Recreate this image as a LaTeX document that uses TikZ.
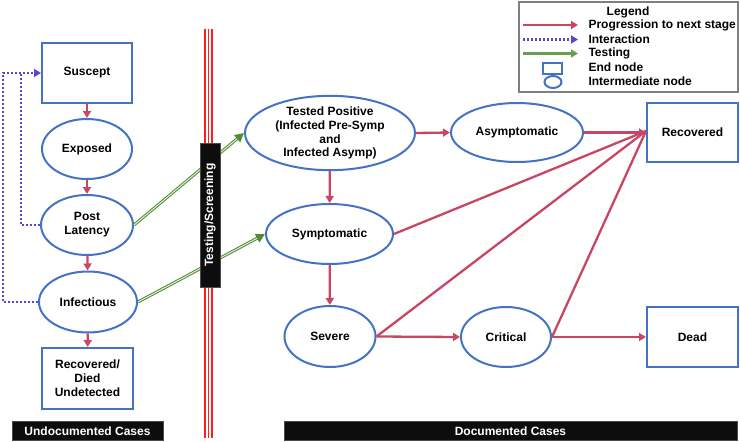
\documentclass[tikz,border=0pt]{standalone}
\usepackage{fontspec}
\setmainfont{Liberation Sans}
\usetikzlibrary{arrows.meta,shapes.geometric}
\definecolor{nodeblue}{RGB}{68,114,196}
\definecolor{progpink}{RGB}{200,70,100}
\definecolor{interblue}{RGB}{88,70,205}
\definecolor{testgreen}{RGB}{78,140,48}
\definecolor{barred}{RGB}{255,30,30}
\definecolor{legendgray}{RGB}{127,127,127}
\tikzset{
  txt/.style={font=\fontsize{12}{13.8}\selectfont\bfseries, text=black, align=center},
  endbox/.style={txt, draw=nodeblue, line width=2pt, rectangle, inner sep=0pt},
  midnode/.style={txt, draw=nodeblue, line width=2pt, ellipse, inner sep=0pt},
  prog/.style={draw=progpink, line width=2.3pt, -{Triangle[length=7pt,width=8pt]}},
  progline/.style={draw=progpink, line width=2.3pt},
  inter/.style={draw=interblue, line width=2.2pt, dash pattern=on 2pt off 2pt, -{Triangle[length=7pt,width=8pt]}},
  interline/.style={draw=interblue, line width=2.2pt, dash pattern=on 2pt off 2pt},
  testouter/.style={draw=testgreen, line width=3pt, -{Triangle[length=9pt,width=9pt]}},
  testinner/.style={draw=white!85!testgreen, line width=1pt, shorten >=9pt},
  blackbar/.style={fill=black!95, draw=black!70, line width=0.5pt, text=white, font=\fontsize{12}{13.8}\selectfont\bfseries, inner sep=0pt},
  redline/.style={draw=barred, line width=1.3pt},
}
\begin{document}
\begin{tikzpicture}[x=1pt,y=-1pt]
\useasboundingbox (0,0) rectangle (740,442);
% red triple lines
\draw[redline] (205,29) -- (205,438);
\draw[redline] (208.5,29) -- (208.5,438);
\draw[redline] (212,29) -- (212,438);

% left column
\node[endbox, minimum width=90pt, minimum height=60pt] (su) at (87,73) {Suscept};
\node[midnode, minimum width=90pt, minimum height=60pt] (ex) at (87,149) {Exposed};
\node[midnode, minimum width=92pt, minimum height=60pt] (pl) at (87,225) {Post\\Latency};
\node[midnode, minimum width=98pt, minimum height=61pt] (inf) at (88,302) {Infectious};
\node[endbox, minimum width=91pt, minimum height=61pt] (rd) at (87.5,378.5) {Recovered/\\Died\\Undetected};

% right part
\node[midnode, minimum width=170pt, minimum height=72pt] (tp) at (330,133) {Tested Positive\\(Infected Pre-Symp\\and\\Infected Asymp)};
\node[midnode, minimum width=127pt, minimum height=60pt] (sy) at (329.5,234) {Symptomatic};
\node[midnode, minimum width=91pt, minimum height=61pt] (sv) at (330,336.5) {Severe};
\node[midnode, minimum width=132pt, minimum height=59pt] (as) at (517,132.5) {Asymptomatic};
\node[midnode, minimum width=90pt, minimum height=60pt] (cr) at (506,337) {Critical};
\node[endbox, minimum width=91pt, minimum height=59pt] (rc) at (692.5,132.5) {Recovered};
\node[endbox, minimum width=91pt, minimum height=60pt] (dd) at (692.5,337) {Dead};

% progression arrows
\draw[prog] (su) -- (ex);
\draw[prog] (ex) -- (pl);
\draw[prog] (pl) -- (inf);
\draw[prog] (inf) -- (rd);
\draw[prog] (tp) -- (sy);
\draw[prog] (sy) -- (sv);
\draw[prog] (tp.east) -- (as.west);
\draw[prog] (as.east) -- (rc.west);
\coordinate (rcin) at ([yshift=1.5pt]rc.west);
\draw[progline] (sy.east) -- (rcin);
\draw[progline] (sv.east) -- (rcin);
\draw[progline] (cr.east) -- (rcin);
\draw[prog] (sv.east) -- (cr.west);
\draw[prog] (cr.east) -- (dd.west);

% interaction
\coordinate (outer) at (3,73);
\coordinate (inner) at (21,73);
\draw[inter] (inf.west) -| (outer) -- (su.west);
\draw[interline] (pl.west) -| (inner);

% testing arrows
\draw[testouter] (pl.east) -- (tp.west);
\draw[testinner] (pl.east) -- (tp.west);
\draw[testouter] (inf.east) -- (sy.west);
\draw[testinner] (inf.east) -- (sy.west);

% bars
\node[blackbar, minimum width=144pt, minimum height=20pt, rotate=90] (tsbar) at (210,215) {Testing/Screening};
\node[blackbar, minimum width=151pt, minimum height=19pt] (ucbar) at (87.5,431) {Undocumented Cases};
\node[blackbar, minimum width=453pt, minimum height=19pt] (dcbar) at (510.5,431) {Documented Cases};

% legend
\node[draw=legendgray, line width=1.2pt, minimum width=219pt, minimum height=90pt, inner sep=0pt] (lg) at (628.5,47) {};
\node[txt] (lgt) at (628,12) {Legend};
\coordinate (l1a) at (523,25); \coordinate (l1b) at (578,25);
\coordinate (l2a) at (523,39.5); \coordinate (l2b) at (578,39.5);
\coordinate (l3a) at (523,53.5); \coordinate (l3b) at (578,53.5);
\draw[prog] (l1a) -- (l1b);
\draw[inter] (l2a) -- (l2b);
\draw[draw=testgreen!85!white, line width=2.3pt, -{Triangle[length=7pt,width=8pt]}] (l3a) -- (l3b);
\node[draw=nodeblue, line width=2pt, minimum width=19pt, minimum height=11pt, inner sep=0pt] (lrect) at (552.5,68) {};
\node[draw=nodeblue, line width=2pt, ellipse, minimum width=17pt, minimum height=12pt, inner sep=0pt] (lell) at (553,82) {};
\node[txt, anchor=west] (t1) at (585,25) {Progression to next stage};
\node[txt, anchor=west] (t2) at (585,39.5) {Interaction};
\node[txt, anchor=west] (t3) at (585,53.5) {Testing};
\node[txt, anchor=west] (t4) at (585,67.5) {End node};
\node[txt, anchor=west] (t5) at (585,81.5) {Intermediate node};
\end{tikzpicture}
\end{document}
